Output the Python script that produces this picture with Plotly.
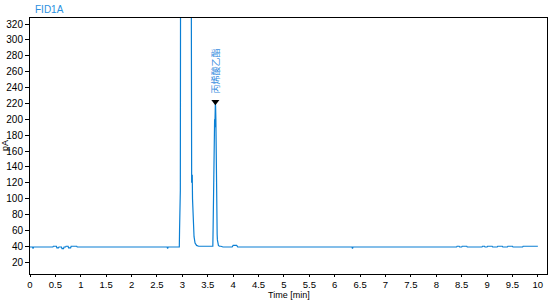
import plotly.graph_objects as go

# Chromatogram trace (time in min, signal in pA)
time_min = [0.0, 0.05, 0.06, 0.07, 0.45, 0.46, 0.52, 0.53, 0.56, 0.57, 0.62, 0.63, 0.66, 0.67,
            0.7, 0.71, 0.75, 0.76, 0.8, 0.81, 0.92, 0.93, 2.7, 2.71, 2.72,
            2.94, 2.945, 2.95, 2.955, 2.96, 2.965, 2.97, 3.0, 3.1, 3.17, 3.175, 3.18, 3.183,
            3.186, 3.19, 3.195, 3.2, 3.205, 3.21, 3.22, 3.23, 3.25, 3.28, 3.32, 3.4,
            3.58, 3.6, 3.605, 3.61, 3.615, 3.62, 3.625, 3.63, 3.635, 3.64, 3.645, 3.65,
            3.655, 3.66, 3.665, 3.67, 3.675, 3.68, 3.685, 3.69, 3.7, 3.71, 3.73, 3.76, 3.8,
            3.98, 4.0, 4.07, 4.09, 5.5, 6.34, 6.35, 6.36, 8.4, 8.41, 8.45, 8.46, 8.5, 8.51,
            8.6, 8.61, 8.9, 8.91, 8.95, 8.96, 9.0, 9.01, 9.1, 9.11, 9.2, 9.21, 9.3, 9.31,
            9.4, 9.41, 9.5, 9.51, 9.7, 9.71, 10.0]
signal_pa = [39, 39, 37, 39, 39, 40, 40, 38, 38, 39, 39, 37, 37, 39,
             39, 40, 40, 38, 38, 40, 40, 39, 39, 37, 39,
             39, 60, 105, 70, 110, 400, 2000, 3000, 3000, 2000, 400, 160, 120,
             165, 135, 130, 100, 90, 85, 65, 52, 44, 41, 40, 40,
             40, 40, 60, 90, 135, 120, 175, 150, 200, 190, 215, 221,
             215, 200, 150, 110, 70, 75, 55, 48, 43, 41, 40, 40, 39,
             39, 41, 41, 39, 39, 39, 37, 39, 39, 40, 40, 39, 39, 40,
             40, 39, 39, 40, 40, 39, 39, 40, 40, 39, 39, 40, 40, 39,
             39, 40, 40, 39, 39, 40, 40]

peak_time = [3.65]
peak_height = [221]
peak_name = ["丙烯酸乙酯"]

x_ticks = [i * 0.5 for i in range(21)]
x_tick_text = [("%g" % v) for v in x_ticks]
y_ticks = list(range(20, 321, 20))

blue = "#0a7fd4"
fig = go.Figure()
fig.add_trace(go.Scatter(x=time_min, y=signal_pa, mode="lines",
                         line=dict(color=blue, width=1.2), hoverinfo="skip", showlegend=False))
fig.add_trace(go.Scatter(x=peak_time, y=[h + 1 for h in peak_height], mode="markers",
                         marker=dict(symbol="triangle-down", size=7, color="black"),
                         showlegend=False, hoverinfo="skip"))
for t, h, n in zip(peak_time, peak_height, peak_name):
    fig.add_annotation(x=t, y=h, text=n, textangle=-90, showarrow=False,
                       xanchor="center", yanchor="bottom", yshift=7,
                       font=dict(family="Noto Sans CJK SC", size=9, color="#3a8ee0"))

axis_font = dict(family="Liberation Sans, Arial", size=10, color="black")
fig.update_layout(
    width=554, height=300,
    margin=dict(l=29, r=6, t=18, b=26),
    plot_bgcolor="white", paper_bgcolor="white",
    xaxis=dict(range=[0, 10.18], tickvals=x_ticks, ticktext=x_tick_text,
               showgrid=False, zeroline=False, showline=True, linecolor="black",
               linewidth=1, mirror=True, ticks="outside", ticklen=2, tickcolor="black",
               tickfont=dict(family="Liberation Sans, Arial", size=9.5, color="black")),
    yaxis=dict(range=[5, 327.6], tickvals=y_ticks, showgrid=False, zeroline=False,
               showline=True, linecolor="black", linewidth=1, mirror=True,
               ticks="outside", ticklen=4, tickcolor="black", tickfont=axis_font),
    font=axis_font,
)
fig.add_annotation(xref="paper", yref="paper", x=0, y=1, xanchor="left", yanchor="bottom",
                   xshift=3, yshift=1, text="FID1A", showarrow=False,
                   font=dict(family="Liberation Sans, Arial", size=10, color="#2a90e0"))
fig.add_annotation(xref="paper", yref="paper", x=0.5, y=0, xanchor="center", yanchor="top",
                   yshift=-15, borderpad=0, text="Time [min]", showarrow=False,
                   font=dict(family="Liberation Sans, Arial", size=9, color="black"))
fig.add_annotation(xref="paper", yref="paper", x=0, y=0.5, xanchor="center", yanchor="middle",
                   xshift=-25, borderpad=0, text="pA", textangle=-90, showarrow=False,
                   font=dict(family="Liberation Sans, Arial", size=9, color="black"))
fig.write_html("out.html")
